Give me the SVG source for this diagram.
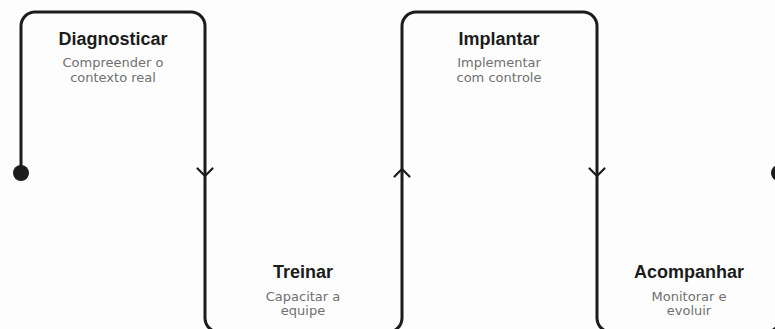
<svg xmlns="http://www.w3.org/2000/svg" width="775" height="329" viewBox="0 0 775 329">
<style>
.line{fill:none;stroke:#1c1c1c;stroke-width:3;stroke-linecap:round;stroke-linejoin:round}
.chev{fill:none;stroke:#1c1c1c;stroke-width:2.2;stroke-linecap:round;stroke-linejoin:miter}
.dot{fill:#1c1c1c}
.t{font-family:"Liberation Sans",Arial,sans-serif;font-weight:700;font-size:18px;fill:#1c1c1c;text-anchor:middle}
.s{font-family:"DejaVu Sans","Liberation Sans",sans-serif;font-size:13px;fill:#707070;text-anchor:middle}
</style>
<rect width="775" height="329" fill="#fdfdfd"/>
<g id="connectors">
<path class="line" d="M21,173 V26 A14,14 0 0 1 35,12 H191 A14,14 0 0 1 205,26 V318 A14,14 0 0 0 219,332 H388 A14,14 0 0 0 402,318 V26 A14,14 0 0 1 416,12 H583 A14,14 0 0 1 597,26 V318 A14,14 0 0 0 611,332 H766 A14,14 0 0 0 780,318 V173"/>
<circle class="dot" cx="21" cy="173" r="8"/>
<circle class="dot" cx="779" cy="173" r="8"/>
<path class="chev" d="M197.5,168.5 L205,176 L212.5,168.5"/>
<path class="chev" d="M394.5,176.5 L402,169 L409.5,176.5"/>
<path class="chev" d="M589.5,168.5 L597,176 L604.5,168.5"/>
</g>
<g id="diagnosticar">
<text class="t" x="113" y="45">Diagnosticar</text>
<text class="s" x="113" y="67">Compreender o</text>
<text class="s" x="113" y="81.5">contexto real</text>
</g>
<g id="treinar">
<text class="t" x="303" y="278">Treinar</text>
<text class="s" x="303" y="301">Capacitar a</text>
<text class="s" x="303" y="315">equipe</text>
</g>
<g id="implantar">
<text class="t" x="499" y="45">Implantar</text>
<text class="s" x="499" y="67">Implementar</text>
<text class="s" x="499" y="81.5">com controle</text>
</g>
<g id="acompanhar">
<text class="t" x="689" y="278">Acompanhar</text>
<text class="s" x="689" y="301">Monitorar e</text>
<text class="s" x="689" y="315">evoluir</text>
</g>
</svg>
